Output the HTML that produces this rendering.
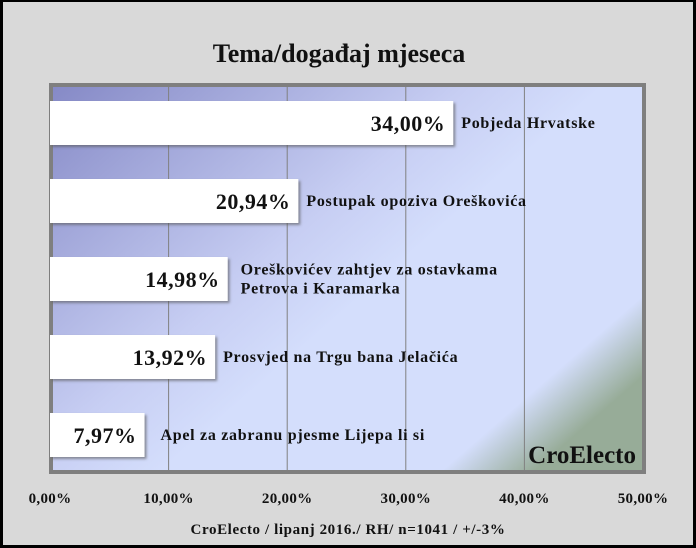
<!DOCTYPE html>
<html><head><meta charset="utf-8"><style>
html,body{margin:0;padding:0;background:#000;}
svg{display:block;font-family:"Liberation Serif",serif;font-weight:bold;}
</style></head><body>
<svg id="c" width="696" height="548" viewBox="0 0 696 548">
<defs>
<linearGradient id="bg" x1="0" y1="0" x2="1" y2="0.75">
<stop offset="0" stop-color="#8589c6"/>
<stop offset="0.45" stop-color="#c7cef3"/>
<stop offset="0.6" stop-color="#d4defc"/>
<stop offset="0.9" stop-color="#d4defc"/>
<stop offset="1" stop-color="#97ac98"/>
</linearGradient>
<filter id="sh" x="-5%" y="-10%" width="110%" height="130%"><feDropShadow dx="2" dy="2" stdDeviation="1.2" flood-color="#555" flood-opacity="0.6"/></filter>
</defs>
<rect x="3" y="2" width="690" height="543" fill="#d9d9d9"/>
<text x="339" y="62" font-size="26" text-anchor="middle" fill="#111">Tema/događaj mjeseca</text>
<rect x="51" y="85" width="593" height="387" fill="url(#bg)" stroke="#7f7f7f" stroke-width="4"/>
<g id="grid"></g>
<g id="bars"></g>
<g id="ticks"></g>
<text x="636" y="463" font-size="25" text-anchor="end" fill="#111" font-weight="bold">CroElecto</text>
<text x="348" y="534" font-size="15" letter-spacing="0.6" text-anchor="middle" fill="#111">CroElecto / lipanj 2016./ RH/ n=1041 / +/-3%</text>
</svg>
<script>
const categories=[["Pobjeda Hrvatske"],["Postupak opoziva Oreškovića"],["Oreškovićev zahtjev za ostavkama","Petrova i Karamarka"],["Prosvjed na Trgu bana Jelačića"],["Apel za zabranu pjesme Lijepa li si"]];
const values=[34.00,20.94,14.98,13.92,7.97];
const tickValues=[0,10,20,30,40,50];
const tickLabels=["0,00%","10,00%","20,00%","30,00%","40,00%","50,00%"];
const NS="http://www.w3.org/2000/svg";
const x0=50,x1=643,vmax=50;
const X=v=>x0+(x1-x0)*v/vmax;
const barTop=101,barStep=78,barH=44;
function mk(t,a,p,txt){const e=document.createElementNS(NS,t);for(const k in a)e.setAttribute(k,a[k]);if(txt!==undefined)e.textContent=txt;p.appendChild(e);return e;}
const g=document.getElementById('grid'),b=document.getElementById('bars'),tk=document.getElementById('ticks');
tickValues.forEach((v,i)=>{
 if(v>0&&v<vmax){const l=mk('line',{x1:X(v),x2:X(v),y1:87,y2:470,stroke:'#808080','stroke-width':1},g);
 
 }
 const t=mk('text',{x:X(v),y:503,'font-size':15,'letter-spacing':0.3,'text-anchor':'middle',fill:'#111'},tk,tickLabels[i]);
 
 
});
values.forEach((v,i)=>{
 const y=barTop+i*barStep;
 const r=mk('rect',{x:x0,y:y,width:X(v)-x0,height:barH,fill:'#fff',filter:'url(#sh)'},b);
 
 
 const vt=mk('text',{x:X(v)-8,y:y+barH/2+8,'font-size':22,'letter-spacing':0.5,'text-anchor':'end',fill:'#111'},b,v.toFixed(2).replace('.',',')+'%');
 
 
 const lines=categories[i];
 lines.forEach((s,j)=>{
  const yy=y+barH/2+5+(j-(lines.length-1)/2)*19;
  const ct=mk('text',{x:X(v)+(v<10?16:8)+(lines.length>1?5:0),y:yy,'font-size':16,'letter-spacing':0.7,fill:'#111'},b,s);
  
  
 });
});
</script>
</body></html>
